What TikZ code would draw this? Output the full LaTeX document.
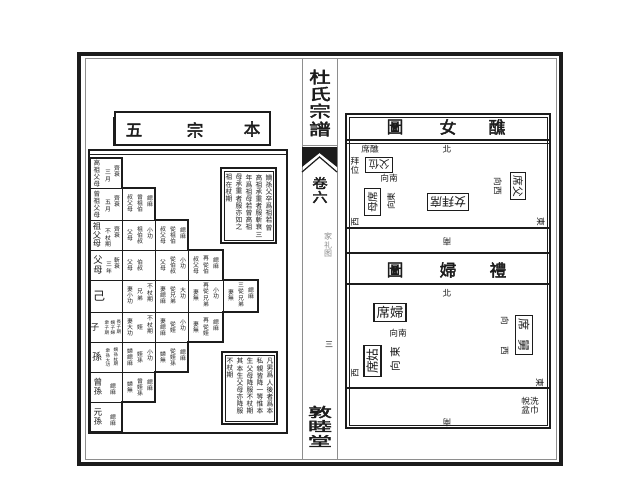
\documentclass[tikz,border=0pt]{standalone}
\usepackage{fontspec}
\newfontfamily\cjk{Noto Sans CJK TC}
\newfontfamily\cjkbold[FakeBold=2.5]{Noto Sans CJK TC}

\definecolor{inkc}{HTML}{1C1C1C}
\definecolor{rulec}{HTML}{8E8E8E}
\definecolor{graytxt}{HTML}{8A8A8A}

\makeatletter
\def\vc@go{\@tfor\vc@ch:=}
\newcommand\vcol[1]{\vbox{\baselineskip=1.05em\lineskiplimit=-\maxdimen\lineskip=0pt
  \edef\vc@list{#1}\expandafter\vc@go\vc@list\do{\hbox to 1em{\hss\vc@ch\hss}}}}
\makeatother
\newcommand\wide[2]{\scalebox{#1}[1]{#2}}

\tikzset{
  cellt/.style={font=\cjk\fontsize{4.4}{4.4}\selectfont, inner sep=0pt, text=inkc},
  tinyt/.style={font=\cjk\fontsize{3.4}{3.4}\selectfont, inner sep=0pt, text=inkc},
  kin/.style={font=\cjk\fontsize{4.9}{4.9}\selectfont, inner sep=0pt, text=inkc},
  notet/.style={font=\cjk\fontsize{5.1}{5.1}\selectfont, inner sep=0pt, text=inkc, anchor=north},
  lbl/.style={font=\cjk\fontsize{6.5}{6.5}\selectfont, inner sep=0pt, text=inkc},
  ttl/.style={font=\cjkbold\fontsize{12.5}{12.5}\selectfont, inner sep=0pt, text=inkc},
  spinet/.style={font=\cjkbold\fontsize{12}{12}\selectfont, inner sep=0pt, text=inkc},
  seat/.style={draw=inkc, line width=0.9pt, inner sep=2pt, font=\cjk\fontsize{8}{8}\selectfont, text=inkc},
}

\begin{document}
\begin{tikzpicture}[x=0.75pt,y=-0.75pt]
\useasboundingbox (0,0) rectangle (640,501);

% page frames and spine
\draw[inkc, line width=2.4pt] (79,54) rectangle (561,464);
\draw[rulec, line width=0.6pt] (85,58) rectangle (556,459);
\draw[rulec, line width=0.6pt] (302,58) -- (302,459) (337,58) -- (337,459);

\node[spinet] (du) at (320,77) {\wide{1.35}{杜}};
\node[spinet] (shi) at (320,94) {\wide{1.35}{氏}};
\node[spinet] (zong) at (320,111) {\wide{1.35}{宗}};
\node[spinet] (pu) at (320,129) {\wide{1.35}{譜}};
\draw[rulec, line width=0.6pt] (302,145) -- (337,145);
\fill[inkc] (302,147) -- (337,147) -- (337,167) -- (319.5,153) -- (302,167) -- cycle;
\draw[inkc, line width=0.9pt] (302,172) -- (319.5,157) -- (337,172);
\node[spinet, font=\cjkbold\fontsize{10}{10}\selectfont] (juan) at (320,183) {\wide{1.15}{卷}};
\node[spinet, font=\cjkbold\fontsize{10}{10}\selectfont] (liu) at (320,197) {\wide{1.15}{六}};
\node[font=\cjk\fontsize{6}{6}\selectfont, text=graytxt, inner sep=0pt] (jlt) at (328,245) {\vcol{家礼图}};
\node[font=\cjk\fontsize{6}{6}\selectfont, text=inkc, inner sep=0pt] (san) at (329,345) {三};
\node[spinet, font=\cjkbold\fontsize{10}{10}\selectfont] (dun) at (320,412) {\wide{1.8}{敦}};
\node[spinet, font=\cjkbold\fontsize{10}{10}\selectfont] (mu) at (320,426) {\wide{1.8}{睦}};
\node[spinet, font=\cjkbold\fontsize{10}{10}\selectfont] (tang) at (320,441) {\wide{1.8}{堂}};

% left page: title box
\draw[inkc, line width=0.9pt] (115,112) rectangle (270,145);
\draw[inkc, line width=2pt] (114,117) -- (114,146);
\node[ttl] (wu) at (134,130) {五};
\node[ttl] (zongt) at (195,130) {宗};
\node[ttl] (ben) at (252,129) {本};

% left page: table frame
\draw[inkc, line width=1.5pt] (88,150) -- (288,150);
\draw[inkc, line width=0.4pt] (89,154) -- (287,154);
\draw[inkc, line width=0.9pt] (89,150) -- (89,433) -- (287,433) -- (287,150);

% staircase grid
\draw[inkc, line width=0.5pt] (89,188) -- (155,188) (89,220) -- (188,220) (89,250) -- (223,250)
  (89,280) -- (258,280) (89,312) -- (258,312) (89,342) -- (223,342) (89,372) -- (188,372)
  (89,402) -- (155,402)
  (122,188) -- (122,402) (155,220) -- (155,372) (188,250) -- (188,342) (223,280) -- (223,312);
\draw[inkc, line width=1.4pt] (90,158) -- (122,158) -- (122,188) -- (155,188) -- (155,220)
  -- (188,220) -- (188,250) -- (223,250) -- (223,280) -- (258,280) -- (258,312) -- (223,312)
  -- (223,342) -- (188,342) -- (188,372) -- (155,372) -- (155,402) -- (122,402) -- (122,432)
  -- (90,432) -- cycle;

% direct line
\node[kin] (gz) at (97,173.5) {\vcol{高祖父母}};
\node[cellt] at (108,176) {\vcol{三月}};
\node[cellt] at (117,171) {\vcol{齊衰}};
\node[kin] (cz) at (97,204.5) {\vcol{曾祖父母}};
\node[cellt] at (108,206) {\vcol{五月}};
\node[cellt] at (117,201) {\vcol{齊衰}};
\node[kin, font=\cjk\fontsize{6.2}{6.2}\selectfont] (zu) at (97,235) {\vcol{祖父母}};
\node[cellt] at (108,238) {\vcol{不杖期}};
\node[cellt] at (117,232) {\vcol{齊衰}};
\node[kin, font=\cjk\fontsize{7}{7}\selectfont] (fu) at (98,265) {\vcol{父母}};
\node[cellt] at (109,268) {\vcol{三年}};
\node[cellt] at (117,263) {\vcol{斬衰}};
\node[kin, font=\cjk\fontsize{9}{9}\selectfont] (ji) at (99,296) {己};
\node[kin, font=\cjk\fontsize{6.5}{6.5}\selectfont] (zi) at (95,327) {子};
\node[tinyt] at (107,328) {\vcol{衆子期}};
\node[tinyt] at (113,328) {\vcol{嫡子婦}};
\node[tinyt] at (119,327) {\vcol{長子期}};
\node[kin, font=\cjk\fontsize{7.5}{7.5}\selectfont] (sun) at (97,357) {孫};
\node[tinyt] at (108,358) {\vcol{衆孫大功}};
\node[tinyt] at (116,357) {\vcol{嫡孫杖期}};
\node[kin, font=\cjk\fontsize{6.5}{6.5}\selectfont] (zs) at (98,387) {\vcol{曾孫}};
\node[cellt] at (113,389) {\vcol{緦麻}};
\node[kin, font=\cjk\fontsize{6.5}{6.5}\selectfont] (xs) at (98,417) {\vcol{元孫}};
\node[cellt] at (113,420) {\vcol{緦麻}};

% collateral cells
\foreach \x/\y/\a/\b/\c in {
  122/188/叔父母/曾祖伯/緦麻, 122/220/父母/祖伯叔/小功, 122/250/父母/伯叔/{},
  122/280/妻小功/兄弟/不杖期, 122/312/妻大功/姪/不杖期, 122/342/婦緦麻/姪孫/小功,
  122/372/婦無/曾姪孫/緦麻,
  155/220/叔父母/從祖伯/緦麻, 155/250/父母/從伯叔/小功, 155/280/妻緦麻/從兄弟/大功,
  155/312/妻緦麻/從姪/小功, 155/342/婦無/從姪孫/緦麻,
  188/250/叔父母/再從伯/緦麻, 188/280/妻無/再從兄弟/小功, 188/312/妻無/再從姪/緦麻,
  223/280/妻無/三從兄弟/緦麻} {
  \node[cellt] at (\x+8,\y+15) {\vcol{\a}};
  \node[cellt] at (\x+18,\y+15) {\vcol{\b}};
  \node[cellt] at (\x+28,\y+13) {\vcol{\c}};
}

% note boxes
\draw[inkc, line width=1.3pt] (221,168) rectangle (276,243);
\draw[inkc, line width=0.4pt] (224,171) rectangle (273,240);
\node[notet] (n1) at (269,174) {\vcol{嫡孫父卒爲祖若曾}};
\node[notet] (n2) at (259,174) {\vcol{高祖承重者服斬衰三}};
\node[notet] (n3) at (249,174) {\vcol{年爲祖母若曾高祖}};
\node[notet] (n4) at (239,174) {\vcol{母承重者服亦如之}};
\node[notet] (n5) at (229,174) {\vcol{祖在杖期}};
\draw[inkc, line width=1.3pt] (222,352) rectangle (277,424);
\draw[inkc, line width=0.4pt] (225,355) rectangle (274,421);
\node[notet] (m1) at (270,358) {\vcol{凡男爲人後者爲本}};
\node[notet] (m2) at (260,358) {\vcol{私親皆降一等惟本}};
\node[notet] (m3) at (250,358) {\vcol{生父母降服不杖期}};
\node[notet] (m4) at (240,358) {\vcol{其本生父母亦降服}};
\node[notet] (m5) at (230,358) {\vcol{不杖期}};

% right page frame
\draw[inkc, line width=1.5pt] (346,114) rectangle (550,428);
\draw[inkc, line width=0.4pt] (349,117) rectangle (547,425);
\draw[inkc, line width=1.1pt] (346,140) -- (550,140);
\draw[inkc, line width=0.4pt] (346,143) -- (550,143);
\draw[inkc, line width=1.1pt] (346,228) -- (550,228);
\draw[inkc, line width=0.9pt] (346,253) -- (550,253);
\draw[inkc, line width=1.1pt] (346,284) -- (550,284);
\draw[inkc, line width=0.9pt] (346,388) -- (550,388);

% jiao nu tu
\node[ttl] (tu1) at (395,127) {圖};
\node[ttl] (nu) at (448,127) {女};
\node[ttl] (jiao) at (497,127) {醮};
\node[lbl] (bei1) at (447,149) {北};
\node[lbl] (jx) at (370,149) {席醮};
\node[lbl] (bw) at (355,166) {\vcol{拜位}};
\node[seat, rotate=180] (fw) at (379,165) {父位};
\node[lbl] (xn1) at (389,178) {向南};
\node[seat, rotate=90] (mx) at (372.5,202) {母席};
\node[lbl, rotate=90] (dx1) at (391,201) {向東};
\node[seat, font=\cjk\fontsize{9}{9}\selectfont, rotate=180] (nbx) at (448,202) {女拜席};
\node[seat, rotate=-90] (fx) at (518,186) {席父};
\node[lbl, rotate=-90] (xx1) at (498,186) {向西};
\node[lbl, rotate=90] (xi1) at (355,222) {西};
\node[lbl, rotate=-90] (dong1) at (541,222) {東};
\node[lbl, rotate=180] (nan1) at (447,242) {南};

% li fu tu
\node[ttl] (tu2) at (395,270) {圖};
\node[ttl] (fu2) at (448,270) {婦};
\node[ttl] (li) at (498,270) {禮};
\node[lbl] (bei2) at (447,293) {北};
\node[seat, font=\cjk\fontsize{10}{10}\selectfont] (fxi) at (390,312.5) {席婦};
\node[lbl] (xn2) at (398,333) {向南};
\node[seat, font=\cjk\fontsize{9.5}{9.5}\selectfont, rotate=90] (gx) at (372.5,361) {席姑};
\node[lbl, font=\cjk\fontsize{8}{8}\selectfont, rotate=90] (dx2) at (395,359) {向\hspace{2pt}東};
\node[lbl, rotate=90] (xi2) at (355,373) {西};
\node[seat, font=\cjk\fontsize{9}{9}\selectfont, rotate=-90] (jx2) at (524,335) {席\hspace{7pt}舅};
\node[lbl, rotate=-90] (xx2) at (505,336) {向\hspace{16pt}西};
\node[lbl, rotate=-90] (dong2) at (540,383) {東};
\node[lbl, align=center] (xj) at (530,406) {帨洗\\盆巾};
\node[lbl, rotate=180] (nan2) at (447,423) {南};
\end{tikzpicture}
\end{document}
